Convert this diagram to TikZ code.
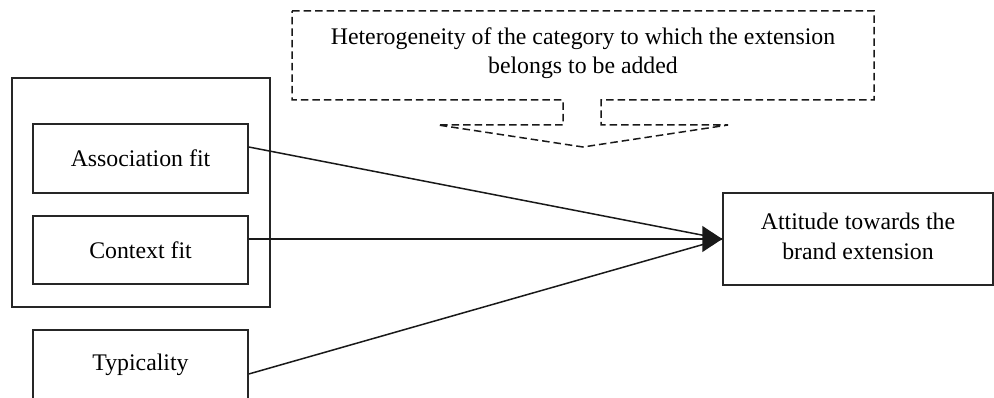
\documentclass[tikz,border=0pt]{standalone}
\usepackage{fontspec}
\setmainfont{Liberation Serif}
\usetikzlibrary{arrows.meta,calc}
\begin{document}
\begin{tikzpicture}[x=1pt,y=-1pt,
  box/.style={draw=black!85, line width=1.5pt, rectangle, inner sep=0pt, align=center, font=\fontsize{23.8}{29}\selectfont},
  dbox/.style={draw=black!90, line width=1.5pt, dash pattern=on 7.5pt off 4pt},
  lbl/.style={inner sep=0pt, align=center, font=\fontsize{23.8}{29.5}\selectfont},
  conn/.style={draw=black!90, line width=1.5pt}]
\useasboundingbox[fill=white] (0,0) rectangle (994,398);
% group box
\node[box, minimum width=258pt, minimum height=229pt] (group) at (141,192.5) {};
\node[box, minimum width=215pt, minimum height=69pt] (assoc) at (140.5,158.5) {Association fit};
\node[box, minimum width=215pt, minimum height=68pt] (ctx) at (140.5,250) {Context fit};
\node[box, minimum width=215pt, minimum height=70pt] (typ) at (140.5,365) {Typicality};
\node[box, minimum width=270pt, minimum height=92pt] (att) at (858,239) {};
\node[lbl] (attlbl) at (858,236.5) {Attitude towards the\\brand extension};
% dashed callout
\draw[dbox] (292,11) -- (874,11) -- (874,100) -- (601,100) -- (601,125) -- (728,125) -- (583,147) -- (438,125) -- (563,125) -- (563,100) -- (292,100) -- cycle;
\node[lbl] (het) at (583,53) {Heterogeneity of the category to which the extension\\belongs to be added};
% connectors
\coordinate (a1) at ($(assoc.east)+(0,-11.5)$);
\coordinate (c1) at ($(ctx.east)+(0,-11)$);
\coordinate (t1) at ($(typ.east)+(0,9)$);
\draw[conn] (a1) -- (att.west);
\draw[conn] (t1) -- (att.west);
\draw[conn, -{Triangle[length=20pt,width=26pt]}] (c1) -- (att.west);
\end{tikzpicture}
\end{document}
